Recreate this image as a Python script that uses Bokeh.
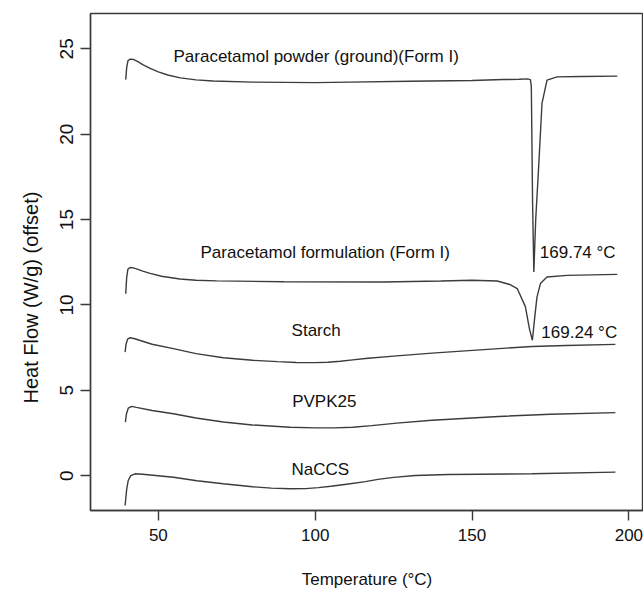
from bokeh.plotting import figure
from bokeh.models import ColumnDataSource, Title, Range1d, FixedTicker
from bokeh.core.properties import value
from bokeh.embed import file_html
from bokeh.resources import INLINE

# ---- data ----
temp_powder = [39.6, 39.9, 40.3, 41.0, 42.0, 43.5, 45.0, 47.4, 50.0, 53.0, 57.0, 62.0,
               67.5, 80.0, 100.0, 111.0, 130.0, 150.0, 160.0, 165.0, 167.6, 168.6,
               168.9, 169.3, 169.7, 170.3, 171.3, 172.3, 173.9, 177.1, 185.0, 196.3]
hf_powder = [23.2, 23.9, 24.3, 24.4, 24.38, 24.25, 24.08, 23.85, 23.65, 23.47, 23.3, 23.18,
             23.12, 23.05, 23.02, 23.05, 23.1, 23.15, 23.2, 23.22, 23.24, 23.2,
             22.8, 16.0, 11.93, 15.0, 18.3, 21.8, 23.17, 23.36, 23.38, 23.4]

temp_form = [39.6, 39.9, 40.3, 41.0, 42.0, 43.5, 45.0, 47.4, 51.0, 56.9, 62.0, 68.6,
             90.0, 121.7, 140.0, 150.0, 158.0, 162.0, 164.4, 167.0, 168.3, 169.24,
             170.0, 170.7, 171.8, 173.9, 180.3, 196.3]
hf_form = [10.66, 11.6, 12.1, 12.19, 12.17, 12.08, 11.98, 11.85, 11.68, 11.52, 11.45, 11.41,
           11.36, 11.34, 11.4, 11.45, 11.4, 11.2, 10.96, 9.9, 8.6, 7.93,
           9.3, 10.46, 11.25, 11.64, 11.73, 11.79]

temp_starch = [39.4, 39.7, 40.2, 41.0, 42.5, 44.0, 48.0, 54.8, 62.0, 70.7, 80.0, 88.0,
               94.0, 100.0, 104.0, 108.0, 112.0, 116.0, 125.0, 137.2, 158.5, 169.1,
               180.0, 195.7]
hf_starch = [7.24, 7.7, 8.0, 8.08, 8.02, 7.93, 7.7, 7.44, 7.15, 6.91, 6.76, 6.68,
             6.63, 6.62, 6.64, 6.7, 6.78, 6.86, 7.0, 7.18, 7.44, 7.57,
             7.62, 7.69]

temp_pvp = [39.5, 39.8, 40.4, 41.5, 43.0, 48.0, 54.8, 62.0, 70.7, 80.0, 92.0, 100.0,
            106.0, 112.0, 118.0, 126.0, 137.2, 158.5, 175.0, 195.7]
hf_pvp = [3.14, 3.6, 3.95, 4.06, 4.0, 3.82, 3.63, 3.38, 3.14, 2.97, 2.84, 2.8,
          2.8, 2.84, 2.93, 3.08, 3.25, 3.47, 3.6, 3.69]

temp_naccs = [39.4, 39.9, 40.4, 41.2, 42.6, 45.0, 54.8, 62.3, 70.7, 80.0, 86.0, 92.0,
              97.0, 101.0, 105.0, 110.0, 116.0, 120.0, 125.0, 131.9, 142.5, 169.1, 195.7]
hf_naccs = [-1.75, -0.8, -0.28, 0.0, 0.11, 0.08, -0.09, -0.3, -0.47, -0.65, -0.73, -0.77,
            -0.76, -0.7, -0.62, -0.5, -0.35, -0.22, -0.1, 0.01, 0.07, 0.11, 0.21]

curve_names = ["Paracetamol powder (ground)(Form I)", "Paracetamol formulation (Form I)",
               "Starch", "PVPK25", "NaCCS"]
name_x = [100.3, 103.2, 100.3, 102.9, 101.6]
name_y = [24.57, 13.1, 8.51, 4.35, 0.36]

peak_labels = ["169.74 °C", "169.24 °C"]
peak_label_x = [171.6, 172.1]
peak_label_y = [13.1, 8.41]

x_ticks = [50, 100, 150, 200]
y_ticks = [0, 5, 10, 15, 20, 25]

FONT = "Liberation Sans"
FS = "17px"
FS_Y = "19px"
FS_YT = "20px"
LINE = "#3c3c3c"
AX = "#3a3a3a"

p = figure(width=643, height=592, output_backend="svg", toolbar_location=None,
           x_range=Range1d(28.37, 204.66), y_range=Range1d(-2.04, 27.07),
           min_border_left=90, min_border_right=0, min_border_top=13, min_border_bottom=82)
p.background_fill_color = "white"
p.border_fill_color = "white"
p.outline_line_color = AX
p.outline_line_width = 1.4
p.xgrid.visible = False
p.ygrid.visible = False

for xs, ys in [(temp_powder, hf_powder), (temp_form, hf_form), (temp_starch, hf_starch),
               (temp_pvp, hf_pvp), (temp_naccs, hf_naccs)]:
    p.line(xs, ys, line_color=LINE, line_width=1.4)

lab_src = ColumnDataSource(dict(x=name_x, y=name_y, t=curve_names))
p.text(x="x", y="y", text="t", source=lab_src, text_align="center", text_baseline="middle",
       text_font=value(FONT), text_font_size=value(FS), text_color="#111111")
pk_src = ColumnDataSource(dict(x=peak_label_x, y=peak_label_y, t=peak_labels))
p.text(x="x", y="y", text="t", source=pk_src, text_align="left", text_baseline="middle",
       text_font=value(FONT), text_font_size=value(FS), text_color="#111111")

for ax in (p.xaxis[0], p.yaxis[0]):
    ax.axis_line_color = AX
    ax.axis_line_width = 1.4
    ax.major_tick_line_color = AX
    ax.major_tick_line_width = 1.4
    ax.major_tick_out = 10
    ax.major_tick_in = 0
    ax.minor_tick_line_color = None
    ax.major_label_text_font = FONT
    ax.major_label_text_font_size = FS
    ax.major_label_text_color = "#111111"
    ax.axis_label_text_font = FONT
    ax.axis_label_text_font_size = FS
    ax.axis_label_text_font_style = "normal"
    ax.axis_label_text_color = "#111111"

p.xaxis.ticker = FixedTicker(ticks=x_ticks)
p.yaxis.ticker = FixedTicker(ticks=y_ticks)
p.xaxis.major_label_standoff = 8
p.yaxis.major_label_standoff = 7
p.yaxis.major_label_text_font_size = FS_Y
p.yaxis.major_label_orientation = "vertical"
p.xaxis.axis_label = "Temperature (°C)"
p.xaxis.axis_label_standoff = 26

p.add_layout(Title(text="Heat Flow (W/g) (offset)", align="left", offset=107,
                   text_font=FONT, text_font_size=FS_YT, text_font_style="normal",
                   text_color="#111111", standoff=32), "left")

open("out.html", "w").write(file_html(p, INLINE))
